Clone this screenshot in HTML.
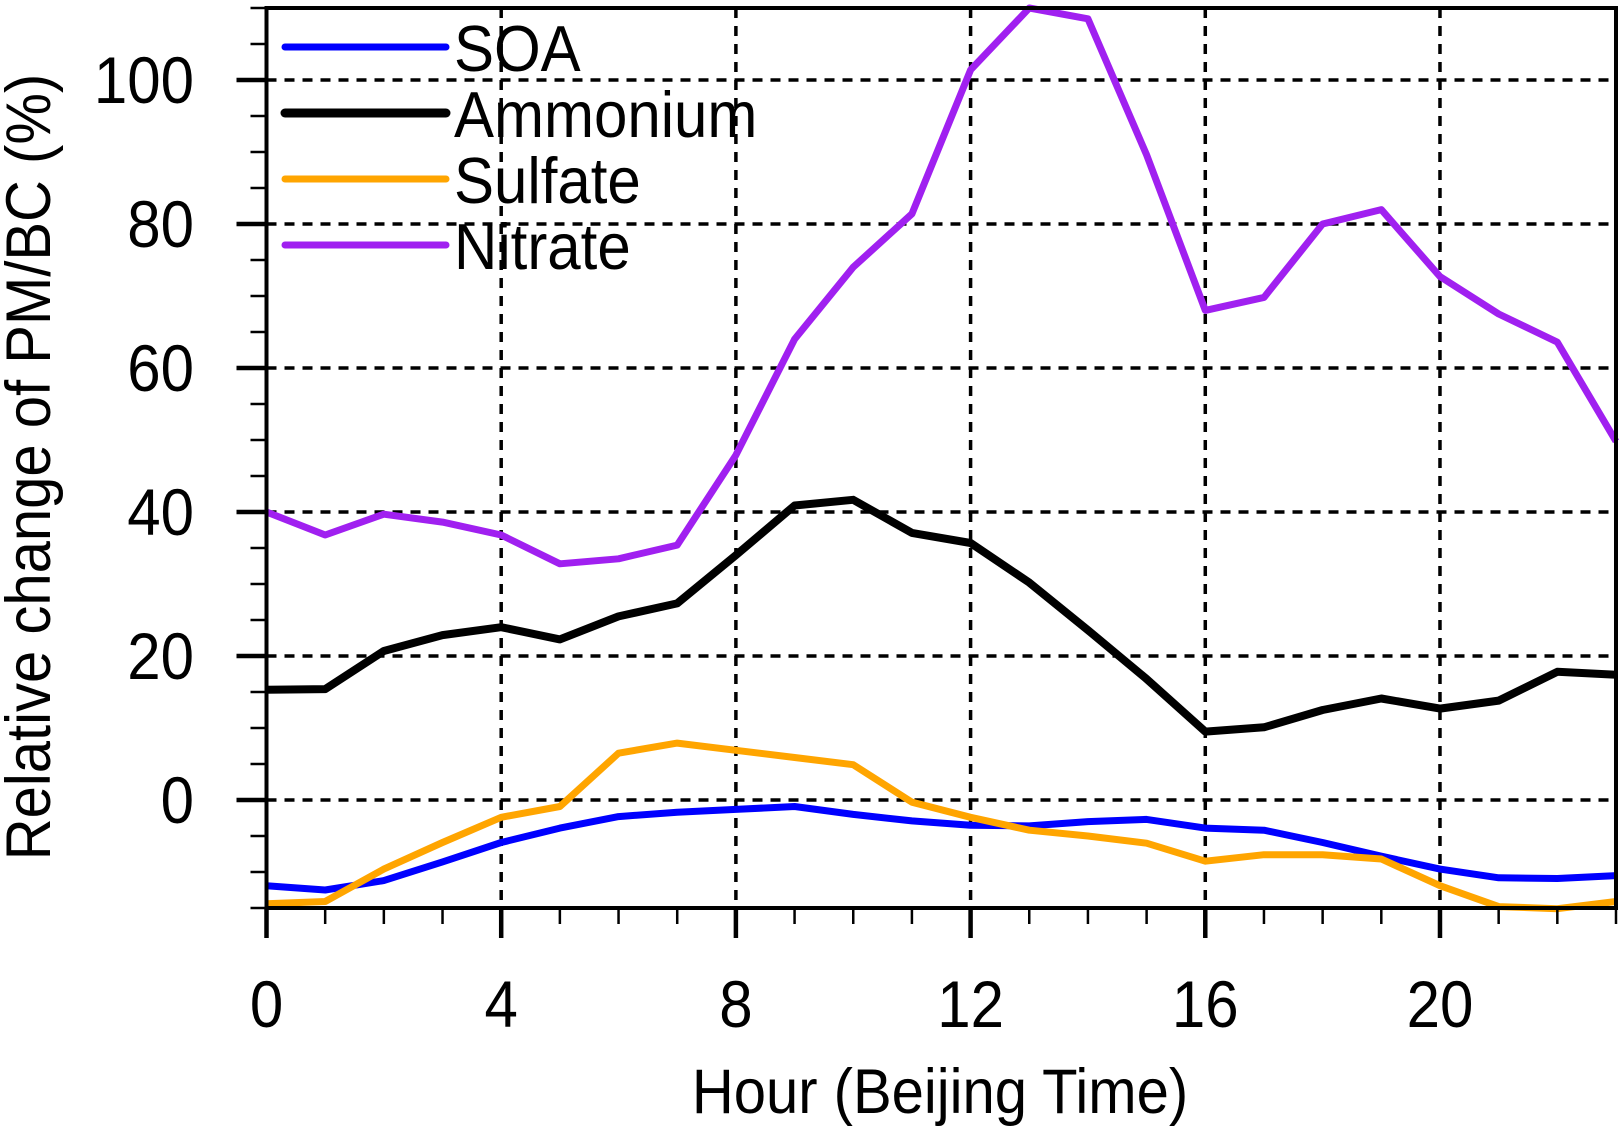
<!DOCTYPE html>
<html><head><meta charset="utf-8"><style>
html,body{margin:0;padding:0;background:#fff;}
svg{display:block;font-family:"Liberation Sans",sans-serif;}
</style></head><body>
<svg id="chart" width="1624" height="1128" viewBox="0 0 1624 1128" xmlns="http://www.w3.org/2000/svg">
<g id="grid"></g>
<g id="series"></g>
<g id="axes"></g>
<g id="legend"></g>
<text transform="translate(940,1113) scale(1,1.08)" font-size="58" text-anchor="middle">Hour (Beijing Time)</text>
<text transform="translate(50,467) rotate(-90) scale(1,1.08)" font-size="58" text-anchor="middle">Relative change of PM/BC (%)</text>
</svg>
<script>
const hours=[0,1,2,3,4,5,6,7,8,9,10,11,12,13,14,15,16,17,18,19,20,21,22,23];
const soa=[-11.9,-12.5,-11.2,-8.6,-5.9,-3.9,-2.3,-1.7,-1.3,-0.9,-2,-2.9,-3.5,-3.6,-3,-2.7,-3.9,-4.2,-5.9,-7.8,-9.6,-10.8,-10.9,-10.5];
const ammonium=[15.3,15.4,20.7,22.9,24,22.3,25.5,27.3,34,40.9,41.7,37.1,35.7,30.2,23.6,16.8,9.5,10.1,12.5,14.1,12.7,13.8,17.8,17.4];
const sulfate=[-14.4,-14.1,-9.6,-5.9,-2.4,-0.9,6.5,7.9,6.9,5.9,4.9,-0.3,-2.4,-4.2,-5,-6,-8.5,-7.6,-7.6,-8.2,-11.9,-14.8,-15.1,-14.1];
const nitrate=[40,36.8,39.7,38.6,36.8,32.8,33.5,35.4,47.9,64,74,81.4,101.4,110,108.5,89.6,68,69.8,80,82,72.7,67.5,63.6,49.8];
const xTicks=[0,4,8,12,16,20];
const yTicks=[0,20,40,60,80,100];
const seriesNames=["SOA","Ammonium","Sulfate","Nitrate"];
const seriesColors=["#0000ff","#000000","#ffa500","#a020f0"];

const NS="http://www.w3.org/2000/svg";
const L=266.5,R=1616,T=8,B=908;
const xMin=0,xMax=23,yMin=-15,yMax=110;
function X(v){return L+(v-xMin)/(xMax-xMin)*(R-L);}
function Y(v){return B-(v-yMin)/(yMax-yMin)*(B-T);}
function mk(tag,attrs,parent){const e=document.createElementNS(NS,tag);for(const k in attrs)e.setAttribute(k,attrs[k]);parent.appendChild(e);return e;}
const grid=document.getElementById('grid'),axes=document.getElementById('axes'),ser=document.getElementById('series'),leg=document.getElementById('legend');

xTicks.forEach(t=>{
 if(t>xMin){const g=mk('line',{x1:X(t),x2:X(t),y1:T,y2:B,stroke:'#000','stroke-width':3.5,'stroke-dasharray':'10 8'},grid);
 
 }
});
yTicks.forEach(t=>{
 const g=mk('line',{x1:L,x2:R,y1:Y(t),y2:Y(t),stroke:'#000','stroke-width':3.5,'stroke-dasharray':'10 8'},grid);
 
 
});

const data=[soa,ammonium,sulfate,nitrate];
data.forEach((arr,i)=>{
 const d=arr.map((v,j)=>(j?'L':'M')+X(hours[j]).toFixed(1)+' '+Y(v).toFixed(1)).join(' ');
 const p=mk('path',{d:d,fill:'none',stroke:seriesColors[i],'stroke-width':i===1?8:7,'stroke-linejoin':'round'},ser);
 
 
});

const frame=mk('rect',{x:L,y:T,width:R-L,height:B-T,fill:'none',stroke:'#000','stroke-width':4},axes);



for(let h=xMin;h<=xMax;h++){
 const major=xTicks.includes(h);
 const tk=mk('line',{x1:X(h),x2:X(h),y1:B,y2:B+(major?30:16),stroke:'#000','stroke-width':major?4.5:2.5},axes);
 
 
}
xTicks.forEach(t=>{
 const tx=mk('text',{transform:'translate('+X(t)+',1027) scale(1,1.1)','font-size':60,'text-anchor':'middle'},axes);
 tx.textContent=t;
 
 
});
for(let v=yMin;v<=yMax;v+=5){
 const major=yTicks.includes(v);
 const tk=mk('line',{x1:L-(major?30:16),x2:L,y1:Y(v),y2:Y(v),stroke:'#000','stroke-width':major?4.5:2.5},axes);
 
 
}
yTicks.forEach(t=>{
 const tx=mk('text',{transform:'translate(194,'+(Y(t)+23)+') scale(1,1.1)','font-size':60,'text-anchor':'end'},axes);
 tx.textContent=t;
 
 
});

seriesNames.forEach((n,i)=>{
 const y=47+i*66;
 const ln=mk('line',{x1:285,x2:446,y1:y,y2:y,stroke:seriesColors[i],'stroke-width':i===1?9:7,'stroke-linecap':'round'},leg);
 
 
 const tx=mk('text',{transform:'translate(454,'+(y+24)+') scale(1,1.08)','font-size':60},leg);
 tx.textContent=n;
 
 
});
</script>
</body></html>
